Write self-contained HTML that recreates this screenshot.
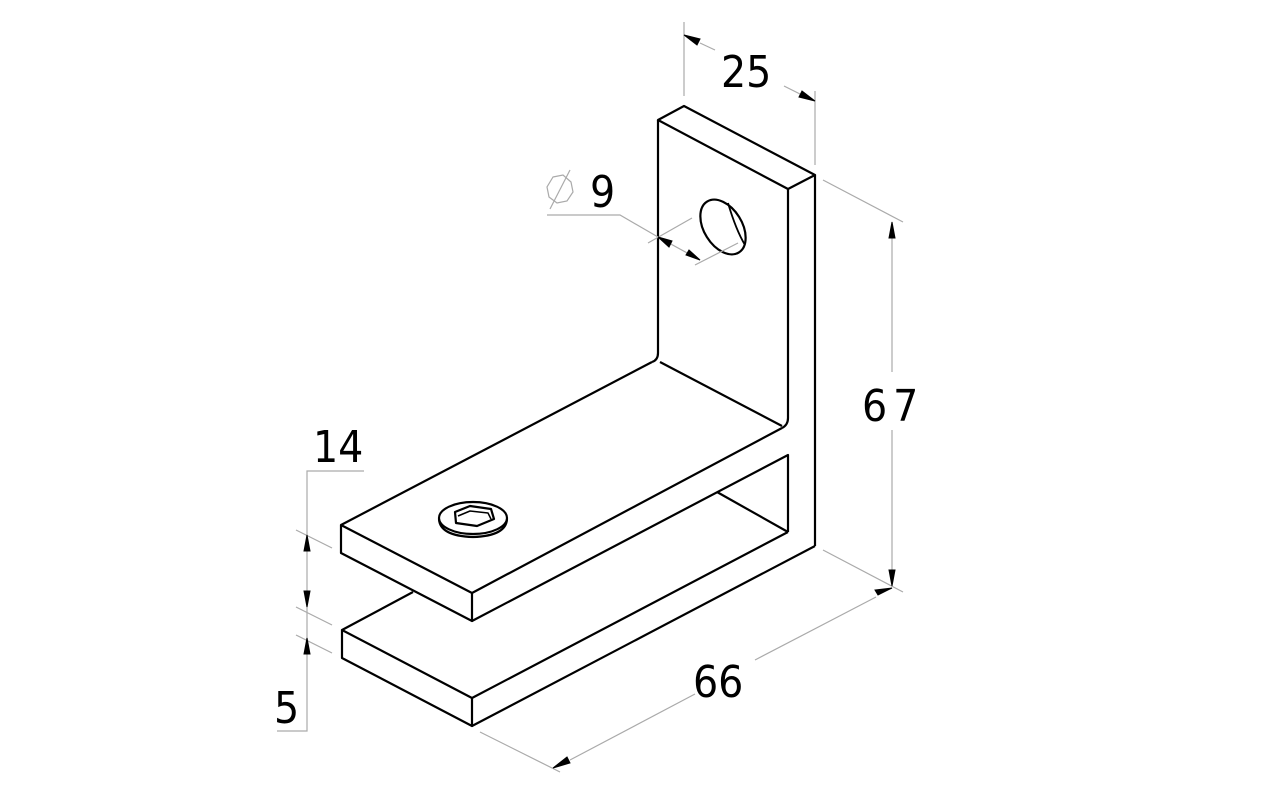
<!DOCTYPE html>
<html><head><meta charset="utf-8"><style>
html,body{margin:0;padding:0;background:#fff;}
svg{display:block}
text{font-family:"DejaVu Sans Condensed","DejaVu Sans","Liberation Sans",sans-serif;fill:#000;}
</style></head><body>
<svg width="1280" height="799" viewBox="0 0 1280 799" xmlns="http://www.w3.org/2000/svg">
<g stroke="#000" stroke-width="2.2" fill="none" stroke-linejoin="round">
<path d="M658,120 L684,106 L815,175 L788,189 Z"/>
<path d="M658,120 L658,353 Q658,360 652,362"/>
<path d="M788,189 L788,418 Q788,425 782,428"/>
<path d="M815,175 L815,546"/>
<path d="M341,525 L652,362"/>
<path d="M660,362 L782,426"/>
<path d="M782,428 L472,593 L341,525 L341,553 L472,621 L472,593"/>
<path d="M472,621 L788,455 L788,532"/>
<path d="M717,492 L788,532"/>
<path d="M413,592 L342,630 L472,698 L788,532"/>
<path d="M342,630 L342,658 L472,726 L472,698"/>
<path d="M472,726 L815,546"/>
<ellipse cx="723" cy="227" rx="19" ry="30" transform="rotate(-32 723 227)"/>
<path d="M728,203 Q736,230 745,245" stroke-width="1.8"/>
<ellipse cx="473" cy="518" rx="34" ry="16"/>
<path d="M439,519 Q440,536 473,537 Q506,536 507,519"/>
<path d="M455,512 L470,506 L491,509 L494,519 L477,526 L456,523 Z"/>
<path d="M458,516 L470,511 L488,513 L491,519" stroke-width="1.5"/>
</g>
<g stroke="#aaa" stroke-width="1.2" fill="none">
<line x1="684" y1="22" x2="684" y2="96"/>
<line x1="815" y1="91" x2="815" y2="165"/>
<line x1="700" y1="43" x2="715" y2="50"/>
<line x1="784" y1="86" x2="800" y2="94"/>
<line x1="823" y1="180" x2="903" y2="222"/>
<line x1="823" y1="550" x2="903" y2="592"/>
<line x1="892" y1="238" x2="892" y2="372"/>
<line x1="892" y1="430" x2="892" y2="570"/>
<line x1="480" y1="732" x2="560" y2="772"/>
<line x1="570" y1="760" x2="695" y2="694"/>
<line x1="755" y1="660" x2="876" y2="597"/>
<polyline points="364,471 307,471 307,731 277,731"/>
<line x1="296" y1="530" x2="332" y2="548"/>
<line x1="296" y1="607" x2="332" y2="625"/>
<line x1="296" y1="635" x2="332" y2="653"/>
<polyline points="547,215 620,215 658,237"/>
<line x1="648" y1="243" x2="692" y2="218"/>
<line x1="695" y1="265" x2="738" y2="243"/>
<line x1="658" y1="237" x2="700" y2="260"/>
<path d="M553,177 L563,175 L571,182 L573,192 L567,201 L557,203 L549,197 L547,187 Z"/>
<line x1="550" y1="209" x2="570" y2="170"/>
</g>
<g stroke="#000" stroke-width="1" fill="#000">
<path d="M684,35 L700,39 L697,45 Z"/>
<path d="M815,101 L799,97 L802,91 Z"/>
<path d="M892,222 L889,238 L895,238 Z"/>
<path d="M892,586 L889,570 L895,570 Z"/>
<path d="M892,588 L878,595 L875,590 Z"/>
<path d="M553,768 L567,757 L570,763 Z"/>
<path d="M307,535 L304,551 L310,551 Z"/>
<path d="M307,607 L304,591 L310,591 Z"/>
<path d="M307,638 L304,654 L310,654 Z"/>
<path d="M658,237 L672,241 L669,247 Z"/>
<path d="M700,260 L686,255 L689,250 Z"/>
</g>
<g font-size="44">
<text x="721" y="87">25</text>
<text x="862" y="421" letter-spacing="6">67</text>
<text x="693" y="697">66</text>
<text x="313" y="462">14</text>
<text x="274" y="723">5</text>
<text x="590" y="207">9</text>
</g>
</svg>
</body></html>
